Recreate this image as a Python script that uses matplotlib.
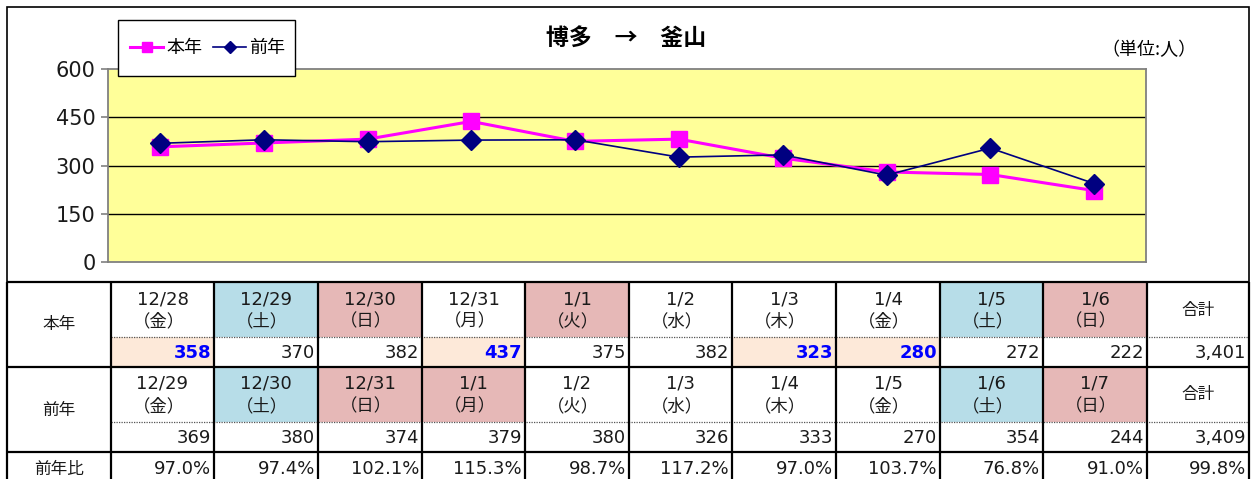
import matplotlib
matplotlib.use("Agg")
import matplotlib.pyplot as plt
from matplotlib.patches import Rectangle

plt.rcParams['font.family'] = ['Noto Sans CJK JP', 'DejaVu Sans']
NUMF = ['DejaVu Sans', 'Noto Sans CJK JP']
CJKF = ['Noto Sans CJK JP', 'DejaVu Sans']

# ---------------- data ----------------
this_dates = ["12/28", "12/29", "12/30", "12/31", "1/1", "1/2", "1/3", "1/4", "1/5", "1/6"]
this_dows = ["（金）", "（土）", "（日）", "（月）", "（火）", "（水）", "（木）", "（金）", "（土）", "（日）"]
this_vals = [358, 370, 382, 437, 375, 382, 323, 280, 272, 222]
this_total = "3,401"
prev_dates = ["12/29", "12/30", "12/31", "1/1", "1/2", "1/3", "1/4", "1/5", "1/6", "1/7"]
prev_dows = ["（金）", "（土）", "（日）", "（月）", "（火）", "（水）", "（木）", "（金）", "（土）", "（日）"]
prev_vals = [369, 380, 374, 379, 380, 326, 333, 270, 354, 244]
prev_total = "3,409"
ratios = ["97.0%", "97.4%", "102.1%", "115.3%", "98.7%", "117.2%", "97.0%", "103.7%", "76.8%", "91.0%"]
ratio_total = "99.8%"
this_hdr_kind = ["w", "sat", "hol", "w", "hol", "w", "w", "w", "sat", "hol"]
this_val_hl = [True, False, False, True, False, False, True, True, False, False]
prev_hdr_kind = ["w", "sat", "hol", "hol", "w", "w", "w", "w", "sat", "hol"]
yticks = [0, 150, 300, 450, 600]
title = "博多　→　釜山"
unit = "（単位:人）"

# --------------- styling ---------------
W, H = 1254, 479
fig = plt.figure(figsize=(W / 100, H / 100), dpi=100)
bg = fig.add_axes([0, 0, 1, 1])
bg.set_xlim(0, W)
bg.set_ylim(H, 0)
bg.axis('off')

kind_color = {"w": "white", "sat": "#b7dde8", "hol": "#e6b8b7"}
peach = "#fde9d9"
txt = '#1a1a1a'

# chart frame
bg.add_patch(Rectangle((7, 7), 1242, 275, fill=False, ec='black', lw=1.2))

# table geometry
col_edges = [7, 111, 214, 318, 422, 525, 629, 732, 836, 940, 1043, 1147, 1249]
t_top, t_dot1, t_mid, t_dot2, t_r3, t_bot = 282, 337, 367, 422, 452, 490

# cell fills
for i in range(10):
    x0, x1 = col_edges[i + 1], col_edges[i + 2]
    bg.add_patch(Rectangle((x0, t_top), x1 - x0, t_dot1 - t_top,
                           fc=kind_color[this_hdr_kind[i]], ec='none'))
    if this_val_hl[i]:
        bg.add_patch(Rectangle((x0, t_dot1), x1 - x0, t_mid - t_dot1, fc=peach, ec='none'))
    bg.add_patch(Rectangle((x0, t_mid), x1 - x0, t_dot2 - t_mid,
                           fc=kind_color[prev_hdr_kind[i]], ec='none'))

# lines
lw_t = 1.6
for y in [t_top, t_mid, t_r3]:
    bg.plot([7, 1249], [y, y], color='black', lw=lw_t, solid_capstyle='butt')
for y in [t_dot1, t_dot2]:
    bg.plot([111, 1249], [y, y], color='#555555', lw=0.9, ls=(0, (1, 1)))
for x in col_edges:
    bg.plot([x, x], [t_top, t_bot], color='black', lw=lw_t, solid_capstyle='butt')

# texts
fs_date = 13
fs_dow = 12.5
fs_val = 13
for i in range(10):
    cx = (col_edges[i + 1] + col_edges[i + 2]) / 2
    xr = col_edges[i + 2] - 3
    bg.text(cx, 299, this_dates[i], ha='center', va='center', fontsize=fs_date, color=txt, family=NUMF)
    bg.text(cx - 4, 321, this_dows[i], ha='center', va='center', fontsize=fs_dow, color=txt, family=CJKF)
    if this_val_hl[i]:
        bg.text(xr, 353, str(this_vals[i]), ha='right', va='center', fontsize=fs_val,
                color='#0000ff', fontweight='bold', family=NUMF)
    else:
        bg.text(xr, 353, str(this_vals[i]), ha='right', va='center', fontsize=fs_val, color=txt, family=NUMF)
    bg.text(cx, 384, prev_dates[i], ha='center', va='center', fontsize=fs_date, color=txt, family=NUMF)
    bg.text(cx - 4, 406, prev_dows[i], ha='center', va='center', fontsize=fs_dow, color=txt, family=CJKF)
    bg.text(xr, 438, str(prev_vals[i]), ha='right', va='center', fontsize=fs_val, color=txt, family=NUMF)
    bg.text(xr, 469, ratios[i], ha='right', va='center', fontsize=fs_val, color=txt, family=NUMF)

tcx = (col_edges[11] + col_edges[12]) / 2
bg.text(tcx, 310, "合計", ha='center', va='center', fontsize=12, color=txt)
bg.text(tcx, 395, "合計", ha='center', va='center', fontsize=12, color=txt)
bg.text(col_edges[12] - 3, 353, this_total, ha='right', va='center', fontsize=fs_val, color=txt, family=NUMF)
bg.text(col_edges[12] - 3, 438, prev_total, ha='right', va='center', fontsize=fs_val, color=txt, family=NUMF)
bg.text(col_edges[12] - 3, 469, ratio_total, ha='right', va='center', fontsize=fs_val, color=txt, family=NUMF)
bg.text(59, 325, "本年", ha='center', va='center', fontsize=12, color=txt)
bg.text(59, 410, "前年", ha='center', va='center', fontsize=12, color=txt)
bg.text(59, 469, "前年比", ha='center', va='center', fontsize=12, color=txt)

# title and unit
bg.text(626, 38, title, ha='center', va='center', fontsize=16.5, fontweight='bold', color='black')
bg.text(1149, 50, unit, ha='center', va='center', fontsize=13, color='black')

# --------------- chart axes ---------------
px0, px1, py0, py1 = 108, 1146, 69, 262
ax = fig.add_axes([px0 / W, 1 - py1 / H, (px1 - px0) / W, (py1 - py0) / H])
ax.set_facecolor('#ffff99')
x = list(range(len(this_vals)))
ax.set_xlim(-0.5, len(this_vals) - 0.5)
ax.set_ylim(0, 600)
for y in yticks[1:-1]:
    ax.axhline(y, color='black', lw=1.0, zorder=1)
l1, = ax.plot(x, this_vals, color='#ff00ff', lw=2.2, marker='s', ms=12,
              mfc='#ff00ff', mec='#ff00ff', zorder=3, label='本年')
l2, = ax.plot(x, prev_vals, color='#000080', lw=1.2, marker='D', ms=10.5,
              mfc='#000080', mec='#000080', zorder=4, label='前年')
ax.set_xticks([])
ax.set_yticks(yticks)
ax.set_yticklabels([str(v) for v in yticks], fontsize=15, color=txt, family=NUMF)
ax.tick_params(axis='y', length=5, color='#808080', width=1.2, pad=4)
for s in ['left', 'bottom', 'top', 'right']:
    ax.spines[s].set_color('#808080')
    ax.spines[s].set_linewidth(1.3)

# legend box + legend
box = Rectangle((118 / W, 1 - 76 / H), 177 / W, 56 / H, transform=fig.transFigure,
                fc='white', ec='black', lw=1.0, zorder=9)
fig.add_artist(box)
leg = fig.legend(handles=[l1, l2], loc='center left',
                 bbox_to_anchor=(130 / W, 1 - 48 / H), ncol=2, fontsize=13,
                 frameon=False, handlelength=1.85, handletextpad=0.15, columnspacing=0.6,
                 markerscale=0.6, borderaxespad=0, borderpad=0)
leg.set_zorder(10)

fig.savefig('out.png', dpi=100)
